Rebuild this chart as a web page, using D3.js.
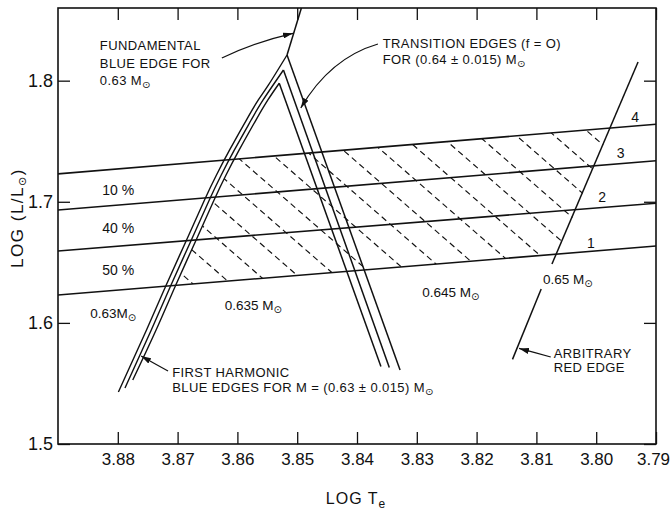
<!DOCTYPE html>
<html>
<head>
<meta charset="utf-8">
<script src="https://cdn.jsdelivr.net/npm/d3@7"></script>
<style>
  body { margin: 0; background: #fff; }
  svg text { font-family: "Liberation Sans", "DejaVu Sans", sans-serif; fill: #111; }
</style>
</head>
<body>
<svg id="chart" width="672" height="511"></svg>
<script>
// ---- axes ----
const xTicks = [3.88, 3.87, 3.86, 3.85, 3.84, 3.83, 3.82, 3.81, 3.80, 3.79];
const xTickLabels = ["3.88", "3.87", "3.86", "3.85", "3.84", "3.83", "3.82", "3.81", "3.80", "3.79"];
const yTicks = [1.5, 1.6, 1.7, 1.8];
const yTickLabels = ["1.5", "1.6", "1.7", "1.8"];
const xDomain = [3.89, 3.79];
const yDomain = [1.5, 1.86];

// ---- luminosity bands (log L at the two log Te ends) ----
const bandTe = [3.89, 3.79];
const band1 = [1.6230, 1.6635];
const band2 = [1.6594, 1.6988];
const band3 = [1.6932, 1.7339];
const band4 = [1.7230, 1.7640];
const bandNames = ["1", "2", "3", "4"];
const bandNamePos = [[3.8009, 1.6618], [3.7990, 1.6998], [3.7959, 1.7362], [3.7935, 1.7659]];
const bandPercent = ["10 %", "40 %", "50 %"];
const bandPercentPos = [[3.8826, 1.7056], [3.8826, 1.6742], [3.8826, 1.6396]];

// ---- fundamental blue edge, 0.63 Msun ----
const fundamentalEdge = [[3.8493, 1.8600], [3.8517, 1.8212]];

// ---- transition edges (f = 0) for (0.64 +- 0.015) Msun ----
const transitionOuter = [[3.8517, 1.8212], [3.8328, 1.5611]];
const transitionMid   = [[3.8523, 1.8088], [3.8346, 1.5632]];
const transitionInner = [[3.8530, 1.7979], [3.8360, 1.5640]];

// ---- first harmonic blue edges for (0.63 +- 0.015) Msun ----
const harmonicOuter = [[3.8517, 1.8212], [3.8548, 1.7965], [3.8565, 1.7841],
  [3.8585, 1.7675], [3.8613, 1.7428], [3.8635, 1.7221], [3.8655, 1.7015], [3.8685, 1.6685],
  [3.8719, 1.6313], [3.8752, 1.5941], [3.8799, 1.5429]];
const harmonicMid = [[3.8523, 1.8088], [3.8557, 1.7841], [3.8577, 1.7675],
  [3.8605, 1.7428], [3.8627, 1.7221], [3.8647, 1.7015], [3.8677, 1.6685], [3.8711, 1.6313],
  [3.8744, 1.5941], [3.8788, 1.5462]];
const harmonicInner = [[3.8530, 1.7979], [3.8549, 1.7841], [3.8569, 1.7675], [3.8597, 1.7428],
  [3.8619, 1.7221], [3.8639, 1.7015], [3.8669, 1.6685], [3.8703, 1.6313], [3.8736, 1.5941],
  [3.8775, 1.5528]];

// ---- arbitrary red edge (drawn in two pieces around its label) ----
const redEdgeUpper = [[3.7930, 1.8154], [3.8074, 1.6486]];
const redEdgeLower = [[3.8092, 1.6280], [3.8140, 1.5699]];

// ---- hatching of the instability strip ----
const hatchAnchor = [3.8423, 1.7426];
const hatchStepTe = 0.00635;
const hatchSlope = 4.3;       // d(log L)/d(log Te)

// ---- annotation text ----
const massLabels = [
  { text: "0.63M", pos: [3.8846, 1.6040] },
  { text: "0.635 M", pos: [3.8621, 1.6107] },
  { text: "0.645 M", pos: [3.8291, 1.6214] },
  { text: "0.65 M", pos: [3.8089, 1.6321] }
];
const noteBlocks = [
  { lines: ["FUNDAMENTAL", "BLUE EDGE FOR", "0.63 M|"], pos: [3.8830, 1.8253], step: 17.5 },
  { lines: ["TRANSITION EDGES (f = O)", "FOR (0.64 \u00b1 0.015) M|"], pos: [3.8357, 1.8270], step: 16 },
  { lines: ["FIRST HARMONIC", "BLUE EDGES FOR M = (0.63 \u00b1 0.015) M|"], pos: [3.8709, 1.5553], step: 15 },
  { lines: ["ARBITRARY", "RED EDGE"], pos: [3.8071, 1.5710], step: 13.5 }
];
const arrows = [
  { from: [3.8626, 1.8187], ctrl: [3.8570, 1.8320], to: [3.8507, 1.8391] },
  { from: [3.8365, 1.8303], ctrl: [3.8445, 1.8187], to: [3.8494, 1.7775] },
  { from: [3.8716, 1.5603], ctrl: [3.8740, 1.5668], to: [3.8761, 1.5727] },
  { from: [3.8076, 1.5718], ctrl: [3.8103, 1.5755], to: [3.8129, 1.5789] }
];

// ------------------------------------------------------------------
const svg = d3.select("#chart");
const x = d3.scaleLinear().domain(xDomain).range([58, 656]);
const y = d3.scaleLinear().domain(yDomain).range([444, 8]);
const line = d3.line().x(d => x(d[0])).y(d => y(d[1]));
const smooth = d3.line().x(d => x(d[0])).y(d => y(d[1])).curve(d3.curveNatural);
const INK = "#111";

const defs = svg.append("defs");
defs.append("marker")
  .attr("id", "head").attr("viewBox", "0 0 10 6")
  .attr("refX", 10).attr("refY", 3)
  .attr("markerWidth", 10).attr("markerHeight", 6)
  .attr("markerUnits", "userSpaceOnUse")
  .attr("orient", "auto")
  .append("path").attr("d", "M0,0 L10,3 L0,6 Z").attr("fill", INK);

const bandLines = [band1, band2, band3, band4].map(b => [[bandTe[0], b[0]], [bandTe[1], b[1]]]);

// clip to the strip between band 1 and band 4
defs.append("clipPath").attr("id", "bandClip").append("path")
  .attr("d", line(bandLines[3].concat(bandLines[0].slice().reverse())) + "Z");
// clip between the innermost first-harmonic edge and the red edge
defs.append("clipPath").attr("id", "edgeClip").append("path")
  .attr("d", smooth(harmonicInner) + "L" + x(redEdgeLower[1][0]) + "," + y(redEdgeLower[1][1]) +
             "L" + x(redEdgeUpper[0][0]) + "," + y(redEdgeUpper[0][1]) + "Z");
defs.append("clipPath").attr("id", "frameClip").append("rect")
  .attr("x", 58).attr("y", 8).attr("width", 598).attr("height", 436);

// hatching
const hatch = svg.append("g").attr("clip-path", "url(#bandClip)")
  .append("g").attr("clip-path", "url(#edgeClip)");
for (let k = -20; k <= 20; k++) {
  const te0 = hatchAnchor[0] + k * hatchStepTe;
  const pA = [te0 + (yDomain[0] - hatchAnchor[1]) / hatchSlope, yDomain[0]];
  const pB = [te0 + (yDomain[1] - hatchAnchor[1]) / hatchSlope, yDomain[1]];
  hatch.append("path").attr("d", line([pA, pB]))
    .attr("stroke", INK).attr("stroke-width", 1.15)
    .attr("stroke-dasharray", "6,4").attr("fill", "none");
}

const plot = svg.append("g").attr("clip-path", "url(#frameClip)");

// luminosity band boundaries
plot.selectAll(".band").data(bandLines).enter().append("path")
  .attr("d", line).attr("stroke", INK).attr("stroke-width", 1.6).attr("fill", "none");

// edges
[fundamentalEdge, transitionOuter, transitionMid, transitionInner, redEdgeUpper, redEdgeLower]
  .forEach(seg => plot.append("path").attr("d", line(seg))
    .attr("stroke", INK).attr("stroke-width", 1.5).attr("fill", "none"));
[harmonicOuter, harmonicMid, harmonicInner]
  .forEach(seg => plot.append("path").attr("d", smooth(seg))
    .attr("stroke", INK).attr("stroke-width", 1.4).attr("fill", "none"));

// axes: ticks point inward on all four sides
const axStyle = g => {
  g.select(".domain").remove();
  g.selectAll("line").attr("stroke", INK).attr("stroke-width", 1.3);
  g.selectAll("text").attr("fill", INK).style("font-size", "17px")
    .style("font-family", "'Liberation Sans','DejaVu Sans',sans-serif");
};
const xAxisG = svg.append("g").attr("transform", "translate(0,444)")
  .call(d3.axisBottom(x).tickValues(xTicks).tickSize(-12).tickPadding(9)
    .tickFormat((d, i) => xTickLabels[i]))
  .call(axStyle);
// the last label sits on the frame corner; nudge it inside the page
xAxisG.selectAll(".tick text").filter(d => d === xTicks[xTicks.length - 1]).attr("dx", -3);
svg.append("g").attr("transform", "translate(0,8)")
  .call(d3.axisTop(x).tickValues(xTicks).tickSize(-12).tickFormat(""))
  .call(axStyle);
svg.append("g").attr("transform", "translate(58,0)")
  .call(d3.axisLeft(y).tickValues(yTicks).tickSize(-12).tickPadding(5)
    .tickFormat((d, i) => yTickLabels[i]))
  .call(axStyle)
  .selectAll("text").style("font-size", "18px");
svg.append("g").attr("transform", "translate(656,0)")
  .call(d3.axisRight(y).tickValues(yTicks).tickSize(-12).tickFormat(""))
  .call(axStyle);

svg.append("rect").attr("x", 58).attr("y", 8).attr("width", 598).attr("height", 436)
  .attr("fill", "none").attr("stroke", INK).attr("stroke-width", 1.6);

// axis titles
const xt = svg.append("text").attr("x", 356).attr("y", 504).attr("text-anchor", "middle")
  .style("font-size", "16px").style("letter-spacing", "1px");
xt.append("tspan").text("LOG  T");
xt.append("tspan").attr("dy", 4).style("font-size", "12px").text("e");

const yt = svg.append("text").attr("transform", "translate(23,218) rotate(-90)")
  .attr("text-anchor", "middle").style("font-size", "17px").style("letter-spacing", "1.5px");
yt.append("tspan").text("LOG (L/L");
yt.append("tspan").attr("dy", 3).style("font-size", "11px").text("\u2299");
yt.append("tspan").attr("dy", -3).text(")");

// a label whose trailing "|" becomes a small sun symbol set as a subscript
function sunText(sel, str, size) {
  const sun = str.endsWith("|");
  const body = sun ? str.slice(0, -1) : str;
  sel.append("tspan").text(body);
  if (sun) sel.append("tspan").attr("dy", 3).style("font-size", (size * 0.75) + "px").text("\u2299");
}

// percentage labels and band numbers
svg.selectAll(".pct").data(bandPercent).enter().append("text")
  .attr("x", (d, i) => x(bandPercentPos[i][0])).attr("y", (d, i) => y(bandPercentPos[i][1]))
  .style("font-size", "14px").text(d => d);
svg.selectAll(".bn").data(bandNames).enter().append("text")
  .attr("x", (d, i) => x(bandNamePos[i][0])).attr("y", (d, i) => y(bandNamePos[i][1]))
  .attr("text-anchor", "middle").style("font-size", "14px").text(d => d);

// mass labels
massLabels.forEach(m => {
  const t = svg.append("text").attr("x", x(m.pos[0])).attr("y", y(m.pos[1])).style("font-size", "13.5px");
  sunText(t, m.text + "|", 13.5);
});

// annotation blocks
noteBlocks.forEach(b => {
  b.lines.forEach((ln, i) => {
    const t = svg.append("text").attr("x", x(b.pos[0])).attr("y", y(b.pos[1]) + i * b.step)
      .style("font-size", "13px").style("letter-spacing", "0.4px");
    sunText(t, ln, 13);
  });
});

// arrows
arrows.forEach(a => {
  svg.append("path")
    .attr("d", `M${x(a.from[0])},${y(a.from[1])} Q${x(a.ctrl[0])},${y(a.ctrl[1])} ${x(a.to[0])},${y(a.to[1])}`)
    .attr("stroke", INK).attr("stroke-width", 1.2).attr("fill", "none")
    .attr("marker-end", "url(#head)");
});
</script>
</body>
</html>
